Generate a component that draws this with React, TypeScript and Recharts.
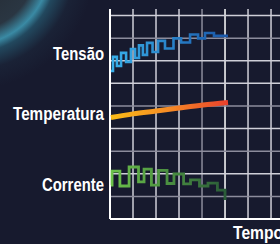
import { LineChart, Line, XAxis, YAxis, ReferenceLine } from "recharts";

// time in tenths of a grid column, values in tenths of a grid row
const tensaoT = [0.4, 1.3, 3.0, 4.8, 7.0, 9.1, 10.9, 12.6, 14.3, 16.1, 18.5, 20.9, 23.9, 27.6, 30.9, 34.8, 38.3, 41.3, 45.2, 51.3];
const tensaoV = [65.5, 71.7, 67.7, 73.5, 69.5, 75.2, 71.2, 76.8, 72.6, 77.9, 73.9, 78.8, 75.4, 79.9, 78.1, 81.6, 79.9, 82.3, 81.0, 81.0];

const temperaturaT = [0.4, 10, 20, 30, 40.4, 51.3];
const temperaturaV = [44.9, 46.5, 47.8, 49.1, 50.4, 51.5];

const correnteT = [0.4, 0.9, 4.3, 8.3, 12.4, 14.8, 18.0, 21.1, 24.8, 27.8, 32.0, 35.0, 38.9, 42.6, 46.7, 50.0];
const correnteV = [15.0, 21.2, 14.6, 23.0, 16.4, 22.1, 15.0, 21.5, 15.7, 19.9, 15.5, 17.3, 14.6, 15.9, 12.8, 8.4];

const labelTicks = [15.3, 46.8, 73.3];
const labelNames = ["Corrente", "Temperatura", "Tensão"];
const tempoTicks = [53.5];
const tempoName = "Tempo";

const gridX = [10, 20, 30, 40, 50, 60, 70];
const gridY = [10, 20, 30, 40, 50, 60, 70, 80, 90];

const zip = (t: number[], v: number[]) => t.map((x, i) => ({ t: x, v: v[i] }));

const FONT = "'Liberation Sans', Arial, sans-serif";
// condensed look: squeeze each label to the width it has in the picture
const labelWidths = [62, 91, 51];
const tempoWidth = 50;

const vColor: Record<number, string> = { 40: "#8c8c9c", 50: "#ffffff" };
const hColor: Record<number, string> = { 10: "#8c8c9c", 30: "#8c8c9c", 50: "#8c8c9c", 80: "#8c8c9c" };

function SideLabel(props: any) {
  const { x, y, payload } = props;
  const i = labelTicks.indexOf(payload.value);
  return (
    <text
      x={x}
      y={y}
      dy={6.5}
      textAnchor="end"
      fill="#ffffff"
      fontSize={18}
      fontWeight="bold"
      fontFamily={FONT}
      textLength={labelWidths[i]}
      lengthAdjust="spacingAndGlyphs"
    >
      {labelNames[i]}
    </text>
  );
}

function TempoLabel(props: any) {
  const { x, y } = props;
  return (
    <text
      x={x}
      y={y + 19.5}
      textAnchor="start"
      fill="#ffffff"
      fontSize={18}
      fontWeight="bold"
      fontFamily={FONT}
      textLength={tempoWidth}
      lengthAdjust="spacingAndGlyphs"
    >
      {tempoName}
    </text>
  );
}

export default function App() {
  return (
    <div
      style={{
        position: "fixed",
        left: 0,
        top: 0,
        width: 280,
        height: 244,
        overflow: "hidden",
        background:
          "radial-gradient(circle at -30px -35px, #22262e 0px, #2a3642 66px, #3a8aa4 80px, #22485e 88px, #1a2236 105px, #171a2e 125px)",
        backgroundColor: "#171a2e",
      }}
    >
      <LineChart width={280} height={244} margin={{ top: 9, right: 0, left: 0, bottom: 0 }}>
        <defs>
          <linearGradient id="gTensao" x1="0" y1="0" x2="1" y2="0">
            <stop offset="0%" stopColor="#38b0ea" />
            <stop offset="100%" stopColor="#1a56a8" />
          </linearGradient>
          <linearGradient id="gTemp" x1="0" y1="0" x2="1" y2="0">
            <stop offset="0%" stopColor="#fbbc17" />
            <stop offset="50%" stopColor="#f68a25" />
            <stop offset="100%" stopColor="#e9402c" />
          </linearGradient>
          <linearGradient id="gCorrente" x1="0" y1="0" x2="1" y2="0">
            <stop offset="0%" stopColor="#6cc24a" />
            <stop offset="100%" stopColor="#2a5c38" />
          </linearGradient>
        </defs>
        <XAxis
          type="number"
          dataKey="t"
          domain={[0, 73.9]}
          ticks={tempoTicks}
          interval={0}
          height={25}
          axisLine={false}
          tickLine={false}
          tickSize={0}
          tickMargin={0}
          tick={TempoLabel}
          allowDataOverflow
        />
        <YAxis
          type="number"
          domain={[0, 92.9]}
          ticks={labelTicks}
          interval={0}
          width={110}
          axisLine={false}
          tickLine={false}
          tickSize={0}
          tickMargin={6}
          tick={SideLabel}
          allowDataOverflow
        />
        {gridX.map((g) => (
          <ReferenceLine key={`gx${g}`} x={g} stroke={vColor[g] ?? "#cfcfd8"} strokeWidth={1.5} />
        ))}
        {gridY.map((g) => (
          <ReferenceLine key={`gy${g}`} y={g} stroke={hColor[g] ?? "#cfcfd8"} strokeWidth={1.5} />
        ))}
        <ReferenceLine x={0} stroke="#ffffff" strokeWidth={2} />
        <ReferenceLine y={0} stroke="#ffffff" strokeWidth={2} />
        <Line
          data={zip(tensaoT, tensaoV)}
          dataKey="v"
          type="stepAfter"
          stroke="url(#gTensao)"
          strokeWidth={2.6}
          dot={false}
          isAnimationActive={false}
        />
        <Line
          data={zip(temperaturaT, temperaturaV)}
          dataKey="v"
          type="monotone"
          stroke="url(#gTemp)"
          strokeWidth={5}
          strokeLinecap="butt"
          dot={false}
          isAnimationActive={false}
        />
        <Line
          data={zip(correnteT, correnteV)}
          dataKey="v"
          type="stepAfter"
          stroke="url(#gCorrente)"
          strokeWidth={2.8}
          dot={false}
          isAnimationActive={false}
        />
      </LineChart>
    </div>
  );
}
